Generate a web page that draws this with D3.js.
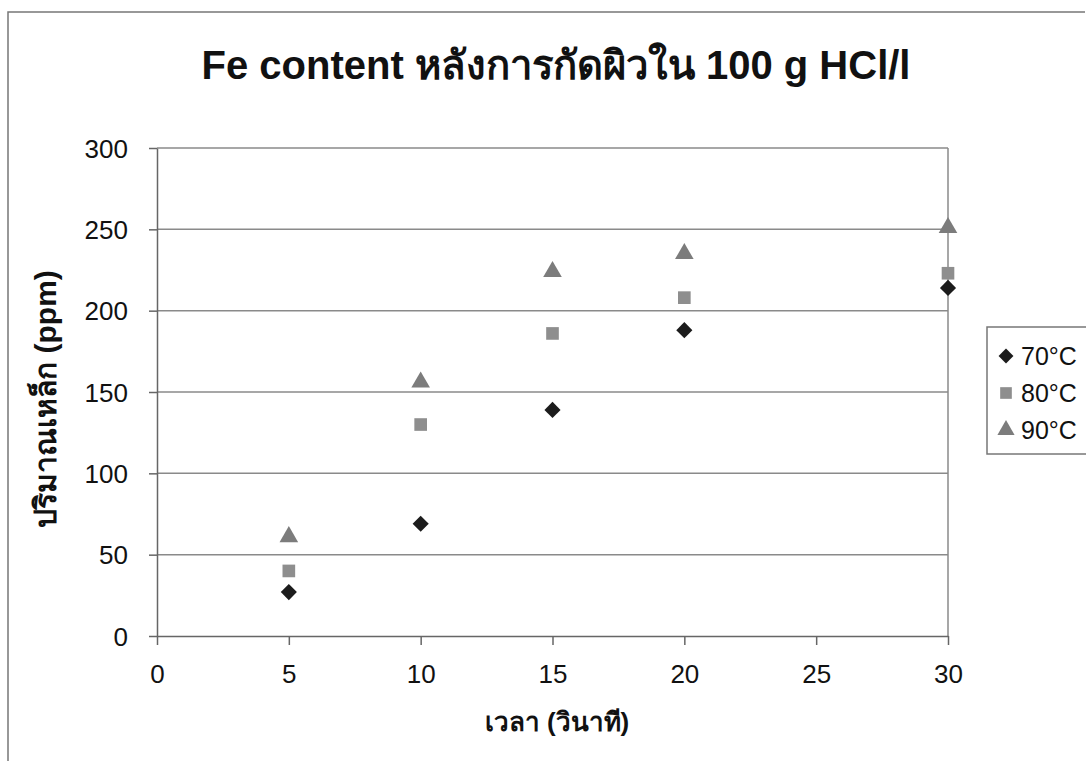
<!DOCTYPE html>
<html>
<head>
<meta charset="utf-8">
<script src="https://cdn.jsdelivr.net/npm/d3@7"></script>
<style>
  body { margin: 0; background: #fff; }
  text { font-family: "Liberation Sans", Arial, "Noto Sans", sans-serif; fill: #111; }
</style>
</head>
<body>
<div id="chart"></div>
<script>
// data
const times = [5, 10, 15, 20, 30];
const fe70 = [27, 69, 139, 188, 214];
const fe80 = [40, 130, 186, 208, 223];
const fe90 = [61, 156, 224, 235, 251];
const seriesNames = ["70°C", "80°C", "90°C"];
const xTicks = [0, 5, 10, 15, 20, 25, 30];
const yTicks = [0, 50, 100, 150, 200, 250, 300];

const width = 1086, height = 761;
const plot = { left: 157, right: 948, top: 148, bottom: 636 };

let svg = d3.select("#chart").append("svg")
  .attr("width", width)
  .attr("height", height);

// chart border
svg.append("path")
  .attr("d", "M8," + height + "V12H" + (width - 1))
  .attr("fill", "none")
  .attr("stroke", "#777")
  .attr("stroke-width", 1.5);

let x = d3.scaleLinear().domain([0, 30]).range([plot.left, plot.right]);
let y = d3.scaleLinear().domain([0, 300]).range([plot.bottom, plot.top]);

// gridlines
svg.append("g")
  .selectAll("line").data(yTicks.filter(d => d > 0))
  .enter().append("line")
  .attr("x1", plot.left).attr("x2", plot.right)
  .attr("y1", d => y(d)).attr("y2", d => y(d))
  .attr("stroke", "#8a8a8a").attr("stroke-width", 1.5);

// right border of plot area
svg.append("line")
  .attr("x1", plot.right).attr("x2", plot.right)
  .attr("y1", plot.top).attr("y2", plot.bottom)
  .attr("stroke", "#8a8a8a").attr("stroke-width", 1.5);

// axes
let xAxis = svg.append("g")
  .attr("transform", "translate(0," + plot.bottom + ")")
  .call(d3.axisBottom(x).tickValues(xTicks).tickSizeInner(9).tickSizeOuter(0).tickPadding(20));
let yAxis = svg.append("g")
  .attr("transform", "translate(" + plot.left + ",0)")
  .call(d3.axisLeft(y).tickValues(yTicks).tickSizeInner(8).tickSizeOuter(0).tickPadding(21));

[xAxis, yAxis].forEach(a => {
  a.select(".domain").attr("stroke", "#666").attr("stroke-width", 1.5);
  a.selectAll(".tick line").attr("stroke", "#666").attr("stroke-width", 1.5);
  a.selectAll(".tick text").attr("font-size", 26).attr("fill", "#111")
    .style("font-family", "'Liberation Sans', Arial, sans-serif");
});
yAxis.selectAll(".tick text").attr("dy", "0.35em");

// titles
svg.append("text")
  .attr("x", 556).attr("y", 79)
  .attr("text-anchor", "middle")
  .attr("font-size", 40).attr("font-weight", "bold")
  .text("Fe content หลังการกัดผิวใน 100 g HCl/l");

svg.append("text")
  .attr("x", 557).attr("y", 731)
  .attr("text-anchor", "middle")
  .attr("font-size", 26).attr("font-weight", "bold")
  .text("เวลา (วินาที)");

svg.append("text")
  .attr("transform", "translate(56,399) rotate(-90)")
  .attr("text-anchor", "middle")
  .attr("font-size", 30).attr("font-weight", "bold")
  .text("ปริมาณเหล็ก (ppm)");

// markers: diamond is a square turned 45 degrees
const symbols = [d3.symbolSquare, d3.symbolSquare, d3.symbolTriangle];
const turns = [45, 0, 0];
const sizes = [130, 160, 150];
const colors = ["#1c1c1c", "#8e8e8e", "#7c7c7c"];
const allSeries = [fe70, fe80, fe90];

allSeries.forEach((vals, s) => {
  svg.append("g")
    .selectAll("path").data(vals)
    .enter().append("path")
    .attr("transform", (d, i) => "translate(" + x(times[i]) + "," + y(d) + ") rotate(" + turns[s] + ")")
    .attr("d", d3.symbol().type(symbols[s]).size(sizes[s]))
    .attr("fill", colors[s]);
});

// legend
let legend = svg.append("g");
legend.append("rect")
  .attr("x", 987).attr("y", 327)
  .attr("width", 120).attr("height", 127)
  .attr("fill", "#fff")
  .attr("stroke", "#777").attr("stroke-width", 1.5);

seriesNames.forEach((name, s) => {
  let cy = 356 + s * 37;
  legend.append("path")
    .attr("transform", "translate(1006," + cy + ") rotate(" + turns[s] + ")")
    .attr("d", d3.symbol().type(symbols[s]).size(sizes[s] * 0.85))
    .attr("fill", colors[s]);
  legend.append("text")
    .attr("x", 1021).attr("y", cy)
    .attr("dy", "0.36em")
    .attr("font-size", 25)
    .text(name);
});
</script>
</body>
</html>
